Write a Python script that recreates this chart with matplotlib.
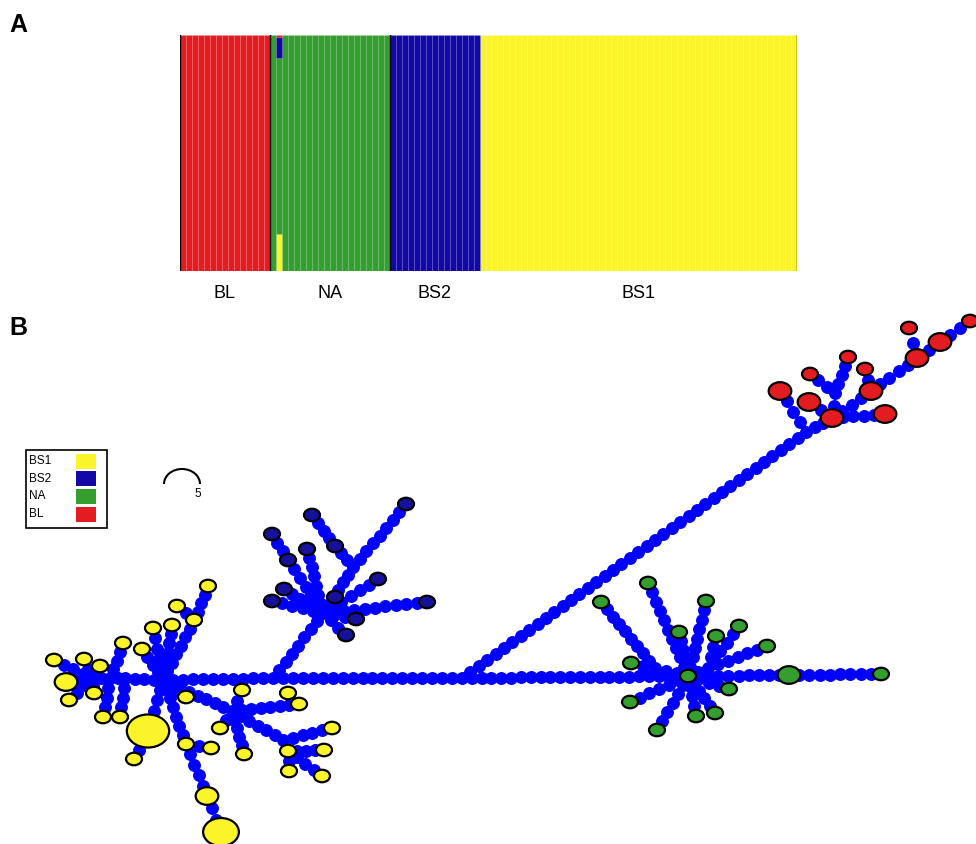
import numpy as np
import matplotlib
matplotlib.use('Agg')
import matplotlib.pyplot as plt
from matplotlib.patches import Ellipse, Arc, Rectangle

plt.rcParams['font.family'] = ['Liberation Sans', 'DejaVu Sans']

# colours for the four clusters / populations
col = {'BS1': '#fcf42a', 'BS2': '#1208a6', 'NA': '#349f2e', 'BL': '#e31c22'}
node_col = {'BS1': '#fcf42a', 'BS2': '#15119a', 'NA': '#349f2e', 'BL': '#e31c22'}
step_col = '#0000ff'

# ---- panel A: membership barplot ----
pop_labels = ['BL', 'NA', 'BS2', 'BS1']
pop_sizes = [15, 20, 15, 53]
cluster_order = ['BS1', 'NA', 'BS2', 'BL']   # stacking order, bottom to top
admixed_ind = 16                              # second NA sample
admixed_q = [0.157, 0.745, 0.090, 0.008]      # BS1, NA, BS2, BL

# ---- panel B: haplotype network ----
# haplotypes: name, population, count
hap_names = ['y1', 'y2', 'y3', 'y4', 'y5', 'y6', 'y7', 'y8', 'y9', 'y10',
             'y11', 'y12', 'y13', 'y14', 'y15', 'y16', 'y17', 'y18', 'y19', 'y20',
             'y21', 'y22', 'y23', 'y24', 'y25', 'y26', 'y27', 'y28', 'y29', 'y30',
             'y31', 'y32',
             'b1', 'b2', 'b3', 'b4', 'b5', 'b6', 'b7', 'b8', 'b9', 'b10', 'b11', 'b12', 'b13',
             'g0', 'g1', 'g2', 'g3', 'g4', 'g5', 'g6', 'g7', 'g8', 'g9', 'g10', 'g11',
             'g12', 'g13', 'gbig', 'gend',
             'r1', 'r2', 'r3', 'r4', 'r5', 'r6', 'r7', 'r8', 'r9', 'r10', 'r11', 'r12']
hap_pop = ['BS1'] * 32 + ['BS2'] * 13 + ['NA'] * 16 + ['BL'] * 12
hap_count = [1, 1, 1, 1, 1, 1, 1, 1, 1, 1,
             2, 1, 1, 1, 1, 1, 7, 1, 1, 1,
             2, 5, 1, 1, 1, 1, 1, 1, 1, 1,
             1, 1,
             1, 1, 1, 1, 1, 1, 1, 1, 1, 1, 1, 1, 1,
             1, 1, 1, 1, 1, 1, 1, 1, 1, 1, 1, 1,
             1, 1, 2, 1,
             1, 1, 2, 2, 1, 1, 1, 2, 2, 2, 2, 2]
# layout of the network (figure pixels)
hap_xy = [(208, 586), (177, 606), (194, 620), (153, 628), (172, 625), (123, 643),
          (142, 649), (54, 660), (84, 659), (100, 666), (66, 682), (69, 700),
          (94, 693), (103, 717), (120, 717), (186, 697), (148, 731), (134, 759),
          (186, 744), (211, 748), (207, 796), (221, 832), (242, 690), (288, 693),
          (299, 704), (220, 728), (332, 728), (244, 754), (288, 751), (324, 750),
          (289, 771), (322, 776),
          (406, 504), (312, 515), (272, 534), (335, 546), (288, 560), (307, 549),
          (378, 579), (284, 589), (272, 601), (335, 597), (427, 602), (356, 619),
          (346, 635),
          (688, 676), (648, 583), (601, 602), (706, 601), (679, 632), (716, 636),
          (739, 626), (767, 646), (631, 663), (729, 689), (630, 702), (696, 716),
          (715, 713), (657, 730), (789, 675), (881, 674),
          (970, 321), (909, 328), (940, 342), (917, 358), (848, 357), (865, 369),
          (810, 374), (871, 391), (780, 391), (809, 402), (885, 414), (832, 418)]

# median vectors (unsampled junctions)
mv_names = ['JL', 'JL2', 'JL3', 'H1', 'H2', 'J3', 'JB', 'HB', 'JB2', 'JD',
            'JDD', 'JR', 'JG', 'JG2']
mv_xy = [(92, 678), (110, 678), (125, 678), (163, 680), (232, 711), (283, 740),
         (273, 678), (323, 613), (353, 567), (462, 678), (806, 432), (835, 393),
         (708, 668), (655, 668)]

# links: (from, to, number of intermediate mutation steps)
links = [
    ('JL', 'y8', 3), ('JL', 'y9', 1), ('JL', 'y10', 1), ('JL', 'y11', 2),
    ('JL', 'y12', 2), ('JL', 'y13', 1), ('JL', 'JL2', 1), ('JL2', 'y6', 3),
    ('JL2', 'y14', 3), ('JL2', 'JL3', 1), ('JL3', 'y15', 3), ('JL3', 'H1', 3),
    ('H1', 'y7', 3), ('H1', 'y4', 4), ('H1', 'y5', 5), ('H1', 'y3', 6),
    ('y3', 'y1', 3), ('y3', 'y2', 1), ('H1', 'y16', 2), ('H1', 'y17', 4),
    ('y17', 'y18', 2), ('H1', 'y19', 6), ('y19', 'y20', 1), ('y19', 'y21', 4),
    ('y21', 'y22', 2), ('H1', 'H2', 7), ('H2', 'y23', 1), ('H2', 'y26', 1),
    ('H2', 'y28', 4), ('H2', 'y25', 6), ('y25', 'y24', 0), ('H2', 'J3', 5),
    ('J3', 'y27', 4), ('J3', 'y29', 0), ('y29', 'y30', 3), ('y29', 'y31', 1),
    ('y29', 'y32', 3),
    ('H1', 'JB', 10), ('JB', 'JD', 18), ('JD', 'g0', 22), ('g0', 'gbig', 9),
    ('gbig', 'gend', 8),
    ('JB', 'HB', 7), ('HB', 'JB2', 5), ('JB2', 'b1', 7), ('b2', 'b4', 3),
    ('b4', 'JB2', 2), ('HB', 'b5', 5), ('b5', 'b3', 2), ('HB', 'b6', 6),
    ('HB', 'b8', 4), ('HB', 'b9', 4), ('HB', 'b10', 1), ('HB', 'b7', 5),
    ('HB', 'b11', 9), ('HB', 'b12', 2), ('HB', 'b13', 2),
    ('JD', 'JDD', 40), ('JDD', 'r9', 3), ('JDD', 'r12', 2), ('r12', 'r10', 1),
    ('r12', 'r11', 4), ('r12', 'r8', 3), ('r12', 'JR', 1), ('JR', 'r5', 3),
    ('JR', 'r7', 2), ('r8', 'r6', 1), ('r8', 'r4', 4), ('r4', 'r2', 1),
    ('r4', 'r3', 1), ('r3', 'r1', 2),
    ('g0', 'g1', 9), ('JG2', 'g2', 8), ('JG2', 'g8', 1), ('JG2', 'g0', 2),
    ('g0', 'g3', 7), ('g0', 'g4', 4), ('JG', 'g5', 2), ('JG', 'g6', 4),
    ('JG', 'g7', 5), ('JG', 'g0', 1), ('g0', 'g9', 3), ('g0', 'g10', 5),
    ('g0', 'g11', 3), ('g0', 'g12', 4), ('g0', 'g13', 5),
]

legend_pops = ['BS1', 'BS2', 'NA', 'BL']

fig = plt.figure(figsize=(9.76, 8.44), dpi=100)

# network axes covers the whole figure, in pixel units
axb = fig.add_axes([0, 0, 1, 1])
axb.set_xlim(0, 976)
axb.set_ylim(844, 0)
axb.axis('off')

pos = dict(zip(hap_names, hap_xy))
pos.update(dict(zip(mv_names, mv_xy)))

dots = []
for a, b, n in links:
    (x0, y0), (x1, y1) = pos[a], pos[b]
    t = np.linspace(0, 1, n + 2)[1:-1]
    for ti in t:
        dots.append((x0 + (x1 - x0) * ti, y0 + (y1 - y0) * ti))
dots += mv_xy
dots = np.array(dots)
axb.scatter(dots[:, 0], dots[:, 1], s=72, color=step_col, edgecolors=step_col,
            linewidths=0.8, zorder=2)

for name, p, c in zip(hap_names, hap_pop, hap_count):
    x, y = pos[name]
    w = 16 * np.sqrt(c)
    h = 12.5 * np.sqrt(c)
    axb.add_patch(Ellipse((x, y), w, h, facecolor=node_col[p], edgecolor='black',
                          linewidth=1.6, zorder=3))

# legend box
axb.add_patch(Rectangle((26, 450), 81, 78, facecolor='white', edgecolor='black',
                        linewidth=1.2, zorder=4))
for i, p in enumerate(legend_pops):
    yy = 461 + i * 17.7
    axb.text(29, yy, p, fontsize=8.5, va='center', ha='left', zorder=5)
    axb.add_patch(Rectangle((76, yy - 7.5), 20, 15, facecolor=col[p],
                            edgecolor='none', zorder=5))

# scale for mutation steps
axb.add_patch(Arc((182, 484), 36, 30, theta1=180, theta2=360, color='black',
                  linewidth=1.5))
axb.text(198, 494, '5', fontsize=8.5, ha='center', va='center')

axb.text(18, 25, 'A', fontsize=18, fontweight='bold', ha='center', va='center')
axb.text(18, 328, 'B', fontsize=18, fontweight='bold', ha='center', va='center')

# panel A
axa = fig.add_axes([180 / 976, 1 - 271 / 844, 617 / 976, 236 / 844])
n_ind = sum(pop_sizes)
q = np.zeros((n_ind, 4))
start = 0
for lab, size in zip(pop_labels, pop_sizes):
    q[start:start + size, cluster_order.index(lab)] = 1.0
    start += size
q[admixed_ind] = admixed_q

x = np.arange(n_ind)
bottom = np.zeros(n_ind)
for k, cl in enumerate(cluster_order):
    axa.bar(x, q[:, k], bottom=bottom, width=1.0, align='edge', color=col[cl],
            edgecolor=(1, 1, 1, 0.07), linewidth=0.4)
    bottom += q[:, k]

bounds = np.cumsum([0] + pop_sizes)
for bx in [bounds[0], bounds[1], bounds[2], bounds[4]]:
    axa.axvline(bx, color='black', linewidth=1.0)

centers = (bounds[:-1] + bounds[1:]) / 2
axa.set_xticks(centers)
axa.set_xticklabels(pop_labels, fontsize=13)
axa.tick_params(axis='x', length=0, pad=10)
axa.set_yticks([])
axa.set_xlim(0, n_ind)
axa.set_ylim(0, 1)
for s in axa.spines.values():
    s.set_visible(False)

fig.savefig('out.png', dpi=100)
